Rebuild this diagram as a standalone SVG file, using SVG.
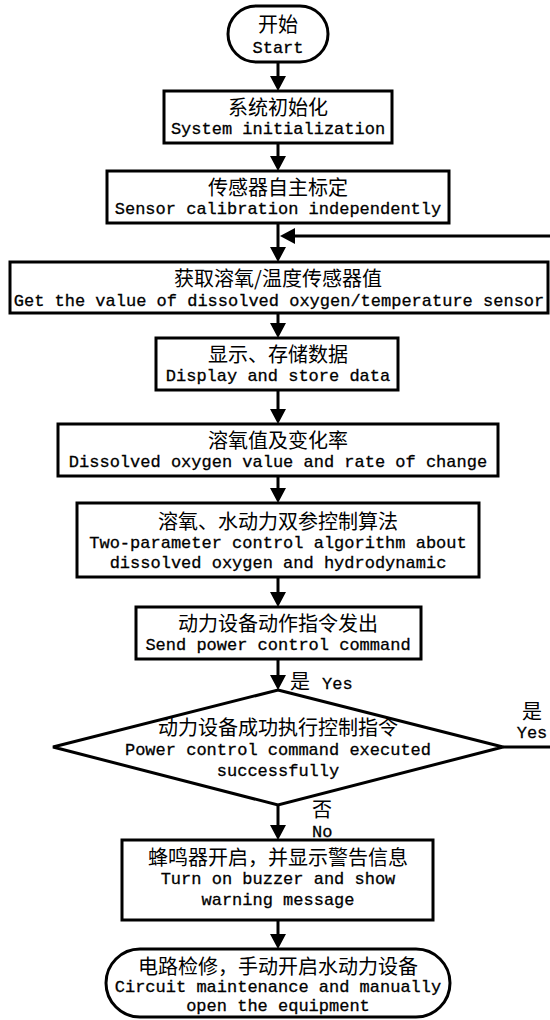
<svg xmlns="http://www.w3.org/2000/svg" width="550" height="1020" viewBox="0 0 550 1020">
<defs>
<marker id="ah" markerUnits="userSpaceOnUse" markerWidth="15" markerHeight="16" viewBox="0 0 15 16" refX="7" refY="8" orient="auto"><path d="M0,0 L15,8 L0,16 z" fill="#000"/></marker>
<style>
.box{fill:#fff;stroke:#000;stroke-width:3}
.cn{font-family:"Noto Sans CJK SC",sans-serif;font-size:20px;text-anchor:middle;fill:#000}
.en{font-family:"Liberation Mono",monospace;font-size:17px;text-anchor:middle;fill:#000;stroke:#000;stroke-width:0.3}
.lbl{text-anchor:start}
.ln{fill:none;stroke:#000;stroke-width:3;marker-end:url(#ah)}
</style>
</defs>
<rect width="550" height="1020" fill="#fff"/>
<g id="connectors">
<path class="ln" d="M278,62 V83"/>
<path class="ln" d="M278,143 V163"/>
<path class="ln" d="M278,223 V254"/>
<path class="ln" d="M278,313 V330"/>
<path class="ln" d="M278,390 V416"/>
<path class="ln" d="M278,476 V495"/>
<path class="ln" d="M278,577 V599"/>
<path class="ln" d="M278,659 V682"/>
<path class="ln" d="M278,805 V832"/>
<path class="ln" d="M278,920 V941"/>
<path class="ln" d="M503,747 H552 V236 H288"/>
<text class="cn lbl" x="290" y="689">是</text>
<text class="en lbl" x="322" y="689">Yes</text>
<text class="cn" x="532" y="719">是</text>
<text class="en" x="532" y="738">Yes</text>
<text class="cn lbl" x="312" y="817">否</text>
<text class="en lbl" x="312" y="837">No</text>
</g>
<g id="start">
<rect class="box" x="228" y="6" width="100" height="56" rx="28"/>
<text class="cn" x="278" y="32">开始</text>
<text class="en" x="278" y="53">Start</text>
</g>
<g id="init">
<rect class="box" x="164" y="91" width="228" height="52"/>
<text class="cn" x="278" y="115">系统初始化</text>
<text class="en" x="278" y="134">System initialization</text>
</g>
<g id="calib">
<rect class="box" x="107" y="171" width="342" height="52"/>
<text class="cn" x="278" y="195">传感器自主标定</text>
<text class="en" x="278" y="214">Sensor calibration independently</text>
</g>
<g id="getvalue">
<rect class="box" x="10" y="262" width="538" height="51"/>
<text class="cn" x="278" y="286">获取溶氧/温度传感器值</text>
<text class="en" x="279" y="306">Get the value of dissolved oxygen/temperature sensor</text>
</g>
<g id="display">
<rect class="box" x="156" y="338" width="242" height="52"/>
<text class="cn" x="278" y="362">显示、存储数据</text>
<text class="en" x="278" y="381">Display and store data</text>
</g>
<g id="rate">
<rect class="box" x="58" y="424" width="440" height="52"/>
<text class="cn" x="278" y="448">溶氧值及变化率</text>
<text class="en" x="278" y="467">Dissolved oxygen value and rate of change</text>
</g>
<g id="algorithm">
<rect class="box" x="77" y="503" width="402" height="74"/>
<text class="cn" x="278" y="529">溶氧、水动力双参控制算法</text>
<text class="en" x="278" y="548">Two-parameter control algorithm about</text>
<text class="en" x="278" y="568">dissolved oxygen and hydrodynamic</text>
</g>
<g id="send">
<rect class="box" x="136" y="607" width="285" height="52"/>
<text class="cn" x="278" y="631">动力设备动作指令发出</text>
<text class="en" x="278" y="650">Send power control command</text>
</g>
<g id="decision">
<polygon class="box" points="278,690 503,747 278,805 53,747"/>
<text class="cn" x="278" y="735">动力设备成功执行控制指令</text>
<text class="en" x="278" y="755">Power control command executed</text>
<text class="en" x="278" y="776">successfully</text>
</g>
<g id="buzzer">
<rect class="box" x="122" y="840" width="311" height="80"/>
<text class="cn" x="278" y="865">蜂鸣器开启，并显示警告信息</text>
<text class="en" x="278" y="884">Turn on buzzer and show</text>
<text class="en" x="278" y="905">warning message</text>
</g>
<g id="end">
<rect class="box" x="106" y="949" width="344" height="68" rx="34"/>
<text class="cn" x="278" y="974">电路检修，手动开启水动力设备</text>
<text class="en" x="278" y="992">Circuit maintenance and manually</text>
<text class="en" x="278" y="1011">open the equipment</text>
</g>
</svg>
